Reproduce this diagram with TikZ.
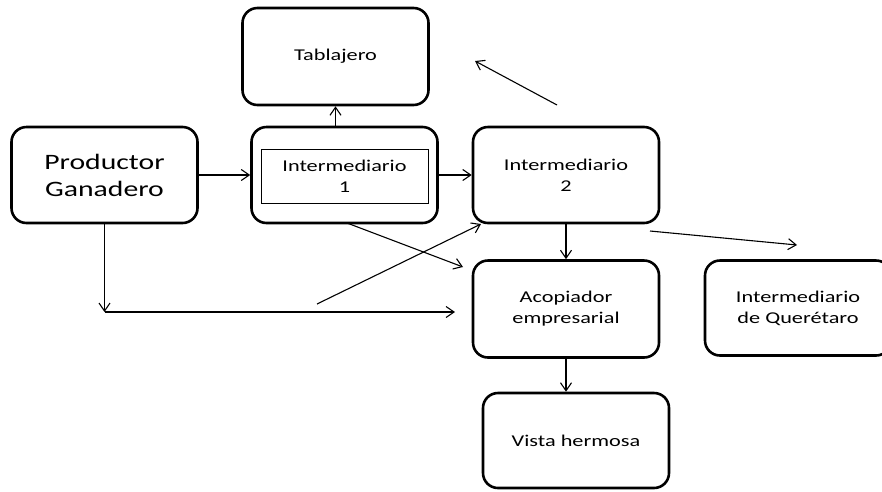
\documentclass[tikz,border=0pt]{standalone}
\usepackage{fontspec}
\setmainfont{Carlito}[FakeStretch=1.35]
\usepackage{tikz}
\usetikzlibrary{arrows.meta}

\begin{document}
\begin{tikzpicture}[x=1pt,y=-1pt,
    box/.style={draw, line width=2.6pt, rounded corners=15pt, minimum width=186pt, minimum height=96pt, align=center, font=\fontsize{16.5}{21}\selectfont},
    inbox/.style={draw, line width=0.9pt, minimum width=167pt, minimum height=54pt, align=center, font=\fontsize{16.5}{21}\selectfont},
    arr/.style={line width=1.1pt, -{Straight Barb[length=8pt,width=11pt,line width=1.1pt]}}]
    \useasboundingbox (0,0) rectangle (882,491);
    \clip (0,0) rectangle (882,491);
    % Draw the boxes
    \node[box, font=\fontsize{22}{27}\selectfont] (prod) at (104.5,175) {Productor\\Ganadero};
    \node[box] (int1) at (344.5,175) {};
    \node[inbox] (int1in) at (344.5,176) {Intermediario\\1};
    \node[box, minimum height=97pt] (tab) at (335.5,56.5) {Tablajero};
    \node[box] (int2) at (566,175) {Intermediario\\2};
    \node[box, minimum height=97pt] (acop) at (566,309) {Acopiador\\empresarial};
    \node[box, minimum height=95pt] (quer) at (798,308) {Intermediario\\de Querétaro};
    \node[box, minimum height=95pt] (vista) at (576,440.5) {Vista hermosa};
    % Loose ends of the arrows
    \coordinate (corner) at (104.5,312);
    \coordinate (toacop) at (455,312);
    \coordinate (crossA) at (317,304);
    \coordinate (crossB) at (481,224);
    \coordinate (int1out) at (347,223);
    \coordinate (acopin) at (463,267);
    \coordinate (querA) at (650,231);
    \coordinate (querB) at (797,245);
    \coordinate (tabA) at (557,105);
    \coordinate (tabB) at (475,61);
    % Draw the arrows
    \draw[arr] (prod) -- (int1);
    \draw[arr] (int1) -- (int2);
    \draw[arr] (tab.south |- int1.north) -- (tab.south);
    \draw[arr] (prod.south) -- (corner);
    \draw[arr] (corner) -- (toacop);
    \draw[arr] (crossA) -- (crossB);
    \draw[arr] (int1out) -- (acopin);
    \draw[arr] (int2) -- (acop);
    \draw[arr] (querA) -- (querB);
    \draw[arr] (tabA) -- (tabB);
    \draw[arr] (acop.south) -- (acop.south |- vista.north);
\end{tikzpicture}
\end{document}
